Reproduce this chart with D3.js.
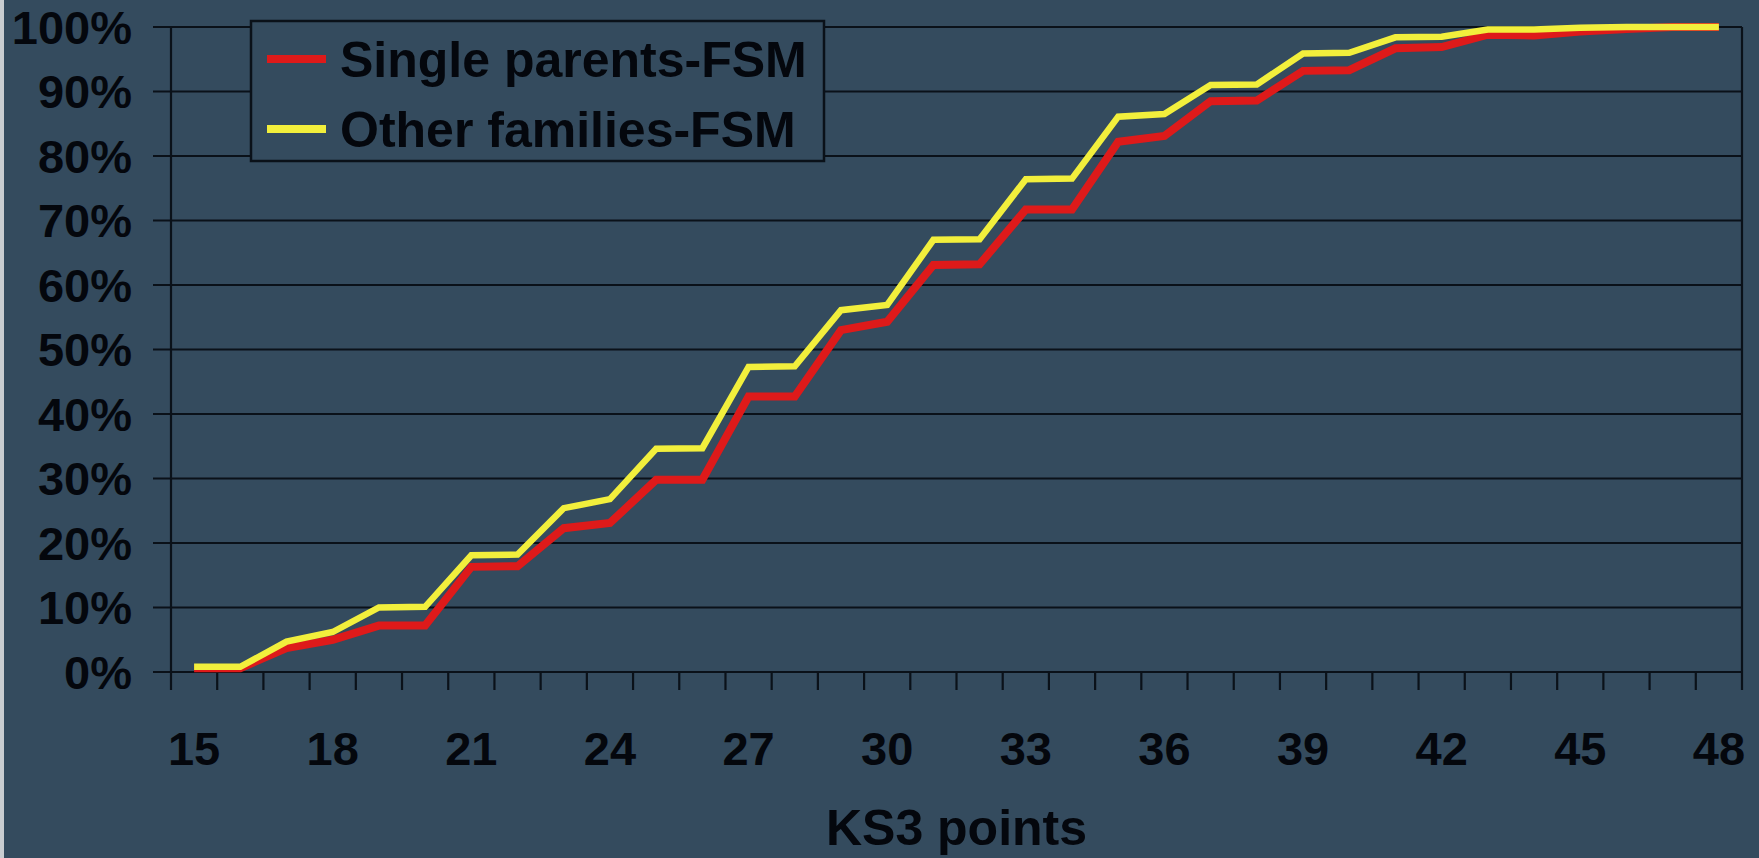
<!DOCTYPE html>
<html>
<head>
<meta charset="utf-8">
<script src="https://cdn.jsdelivr.net/npm/d3@7"></script>
<style>
  html, body { margin: 0; padding: 0; background: #344b5e; }
  svg { display: block; }
  text { font-family: "Liberation Sans", Arial, sans-serif; font-weight: bold; fill: #04070d; }
</style>
</head>
<body>
<div id="chart"></div>
<script>
// KS3 points categories
const points = d3.range(15, 49);
// cumulative share, in %
const singleParents = [0.6, 0.6, 3.7, 5.0, 7.2, 7.2, 16.3, 16.4, 22.3, 23.1, 29.8, 29.8, 42.7, 42.7, 53.0, 54.3,
    63.1, 63.2, 71.7, 71.7, 82.2, 83.1, 88.5, 88.6, 93.2, 93.3, 96.7, 96.9, 98.8, 98.7, 99.3, 99.7, 100, 100];
const otherFamilies = [0.8, 0.8, 4.7, 6.2, 10.0, 10.1, 18.1, 18.2, 25.4, 26.8, 34.6, 34.7, 47.3, 47.4, 56.1, 56.9,
    67.0, 67.1, 76.4, 76.5, 86.1, 86.5, 91.0, 91.1, 95.9, 96.0, 98.4, 98.5, 99.6, 99.6, 99.9, 100, 100, 100];
const yTicks = [0, 10, 20, 30, 40, 50, 60, 70, 80, 90, 100];
const xLabels = [15, 18, 21, 24, 27, 30, 33, 36, 39, 42, 45, 48];

const seriesNames = ["Single parents-FSM", "Other families-FSM"];
const seriesColors = ["#de1a1a", "#f2ef3c"];

const width = 1759;
const height = 858;
const margin = { top: 27, right: 17, bottom: 186, left: 171 };

const svg = d3.select("#chart").append("svg")
    .attr("width", width)
    .attr("height", height);

svg.append("rect")
    .attr("width", width)
    .attr("height", height)
    .attr("fill", "#344b5e");
// light strip on the left edge of the picture
svg.append("rect")
    .attr("width", 4)
    .attr("height", height)
    .attr("fill", "#c9cdd1");

const x = d3.scaleBand()
    .domain(points)
    .range([margin.left, width - margin.right])
    .padding(0);

const y = d3.scaleLinear()
    .domain([0, 100])
    .range([height - margin.bottom, margin.top]);

const gridColor = "#0a1119";

// gridlines + y ticks
svg.append("g")
    .selectAll("line")
    .data(yTicks)
    .enter().append("line")
    .attr("x1", margin.left - 18)
    .attr("x2", width - margin.right)
    .attr("y1", d => y(d))
    .attr("y2", d => y(d))
    .attr("stroke", gridColor)
    .attr("stroke-width", 2.2);

// right edge of plot area
svg.append("line")
    .attr("x1", width - margin.right)
    .attr("x2", width - margin.right)
    .attr("y1", y(100))
    .attr("y2", y(0))
    .attr("stroke", gridColor)
    .attr("stroke-width", 2.2);

// y axis line
svg.append("line")
    .attr("x1", margin.left)
    .attr("x2", margin.left)
    .attr("y1", y(100))
    .attr("y2", y(0) + 18)
    .attr("stroke", gridColor)
    .attr("stroke-width", 2.2);

// x ticks at category boundaries
svg.append("g")
    .selectAll("line")
    .data(points)
    .enter().append("line")
    .attr("x1", d => x(d) + x.bandwidth())
    .attr("x2", d => x(d) + x.bandwidth())
    .attr("y1", y(0))
    .attr("y2", y(0) + 18)
    .attr("stroke", gridColor)
    .attr("stroke-width", 2.2);

// y tick labels
svg.append("g")
    .selectAll("text")
    .data(yTicks)
    .enter().append("text")
    .attr("x", 132)
    .attr("y", d => y(d))
    .attr("dy", "0.36em")
    .attr("text-anchor", "end")
    .style("font-size", "47px")
    .text(d => d + "%");

// x tick labels (every third point)
const xAxis = d3.axisBottom(x).tickValues(xLabels).tickSize(0).tickPadding(0);
const gx = svg.append("g")
    .attr("transform", `translate(0, 765)`)
    .call(xAxis);
gx.select(".domain").remove();
gx.selectAll("text")
    .attr("y", 0)
    .attr("dy", 0)
    .attr("fill", null)
    .style("font-size", "47px")
    .style("font-family", null);

// axis title
svg.append("text")
    .attr("x", (margin.left + width - margin.right) / 2)
    .attr("y", 845)
    .attr("text-anchor", "middle")
    .style("font-size", "50px")
    .text("KS3 points");

// lines
const line = d3.line()
    .x((d, i) => x(points[i]) + x.bandwidth() / 2)
    .y(d => y(d));

svg.append("path")
    .datum(singleParents)
    .attr("fill", "none")
    .attr("stroke", seriesColors[0])
    .attr("stroke-width", 8)
    .attr("d", line);

svg.append("path")
    .datum(otherFamilies)
    .attr("fill", "none")
    .attr("stroke", seriesColors[1])
    .attr("stroke-width", 6.5)
    .attr("d", line);

// legend
const legend = svg.append("g")
    .attr("transform", "translate(251, 21)");

legend.append("rect")
    .attr("width", 573)
    .attr("height", 140)
    .attr("fill", "#344b5e")
    .attr("stroke", gridColor)
    .attr("stroke-width", 2.5);

const items = legend.selectAll("g.item")
    .data(seriesNames)
    .enter().append("g")
    .attr("class", "item")
    .attr("transform", (d, i) => `translate(0, ${38 + i * 70})`);

items.append("line")
    .attr("x1", 16)
    .attr("x2", 75)
    .attr("stroke", (d, i) => seriesColors[i])
    .attr("stroke-width", 8);

items.append("text")
    .attr("x", 89)
    .attr("dy", "0.36em")
    .style("font-size", "50px")
    .text(d => d);
</script>
</body>
</html>
